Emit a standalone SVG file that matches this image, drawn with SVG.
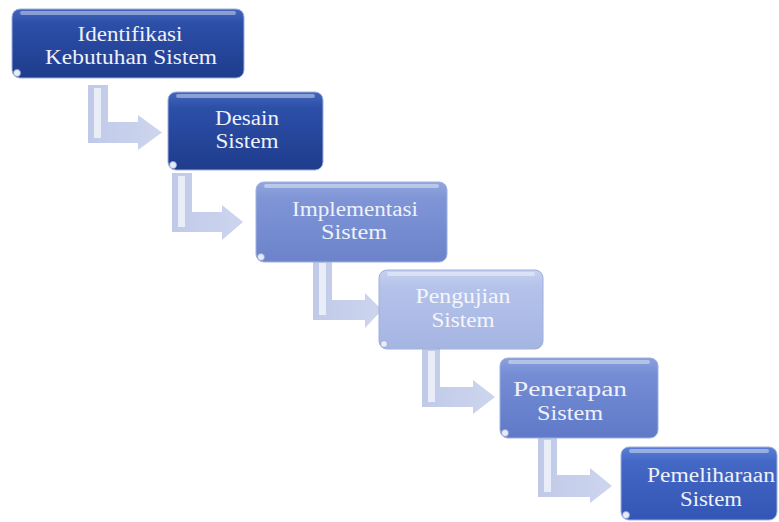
<svg xmlns="http://www.w3.org/2000/svg" width="779" height="522" viewBox="0 0 779 522">
  <defs>
    <linearGradient id="gDark" x1="0" y1="0" x2="0" y2="1">
      <stop offset="0" stop-color="#4366bd"/>
      <stop offset="0.2" stop-color="#2c4fa8"/>
      <stop offset="1" stop-color="#1f3c8c"/>
    </linearGradient>
    <linearGradient id="gMid" x1="0" y1="0" x2="0" y2="1">
      <stop offset="0" stop-color="#93a7de"/>
      <stop offset="0.2" stop-color="#7f95d6"/>
      <stop offset="1" stop-color="#6c83cb"/>
    </linearGradient>
    <linearGradient id="gLight" x1="0" y1="0" x2="0" y2="1">
      <stop offset="0" stop-color="#c7d2f0"/>
      <stop offset="0.2" stop-color="#b5c3ea"/>
      <stop offset="1" stop-color="#a5b5e2"/>
    </linearGradient>
    <linearGradient id="gMid2" x1="0" y1="0" x2="0" y2="1">
      <stop offset="0" stop-color="#8aa0dd"/>
      <stop offset="0.2" stop-color="#748dd4"/>
      <stop offset="1" stop-color="#6079c8"/>
    </linearGradient>
    <linearGradient id="gBlue" x1="0" y1="0" x2="0" y2="1">
      <stop offset="0" stop-color="#5b7fd4"/>
      <stop offset="0.2" stop-color="#4468c6"/>
      <stop offset="1" stop-color="#3355b5"/>
    </linearGradient>
    <linearGradient id="gArrow" x1="0" y1="0" x2="1" y2="0">
      <stop offset="0" stop-color="#c0cae8"/>
      <stop offset="1" stop-color="#cdd5ee"/>
    </linearGradient>
  </defs>
  <style>
    .box { stroke: #9fb0dc; stroke-width: 1; }
    .hl { fill: #ffffff; opacity: 0.4; }
    .curl { fill: #e6ebf7; stroke: #8ea0d4; stroke-width: 0.8; }
    .lbl { font-family: "Liberation Serif", "Times New Roman", serif; font-size: 20px; fill: #eef1fa; text-anchor: middle; }
    .arrow { fill: url(#gArrow); }
    .stripe { fill: #e9edf8; }
  </style>
  <rect width="779" height="522" fill="#ffffff"/>

  <g id="connectors">
    <g id="a1">
      <polygon class="arrow" points="88,85 108,85 108,122 138,122 138,115 162,132.5 138,150 138,143 88,143"/>
      <rect class="stripe" x="94" y="88" width="7" height="50"/>
    </g>
    <g id="a2">
      <polygon class="arrow" points="172,173 192,173 192,212 222,212 222,205 243,222 222,240 222,232 172,232"/>
      <rect class="stripe" x="178" y="176" width="7" height="51"/>
    </g>
    <g id="a3">
      <polygon class="arrow" points="313,260 332,260 332,300 365,300 365,293 382,310 365,328 365,320 313,320"/>
      <rect class="stripe" x="319" y="263" width="7" height="52"/>
    </g>
    <g id="a4">
      <polygon class="arrow" points="422,348 440,348 440,387 473,387 473,380 495,397 473,414 473,407 422,407"/>
      <rect class="stripe" x="428" y="351" width="7" height="51"/>
    </g>
    <g id="a5">
      <polygon class="arrow" points="538,437 557,437 557,475 590,475 590,468 612,486 590,503 590,497 538,497"/>
      <rect class="stripe" x="544" y="440" width="7" height="52"/>
    </g>
  </g>

  <g id="n1">
    <rect class="box" x="12" y="9" width="232" height="69" rx="8" fill="url(#gDark)"/>
    <rect class="hl" x="20" y="11" width="216" height="4" rx="2"/>
    <circle class="curl" cx="17" cy="73" r="3.5"/>
    <text class="lbl" x="130" y="41" textLength="105" lengthAdjust="spacingAndGlyphs">Identifikasi</text>
    <text class="lbl" x="131" y="64" textLength="172" lengthAdjust="spacingAndGlyphs">Kebutuhan Sistem</text>
  </g>

  <g id="n2">
    <rect class="box" x="168" y="92" width="155" height="78" rx="8" fill="url(#gDark)"/>
    <rect class="hl" x="176" y="94" width="139" height="4" rx="2"/>
    <circle class="curl" cx="173" cy="165" r="3.5"/>
    <text class="lbl" x="247" y="125" textLength="64" lengthAdjust="spacingAndGlyphs">Desain</text>
    <text class="lbl" x="247" y="148" textLength="63" lengthAdjust="spacingAndGlyphs">Sistem</text>
  </g>

  <g id="n3">
    <rect class="box" x="256" y="182" width="191" height="80" rx="8" fill="url(#gMid)"/>
    <rect class="hl" x="264" y="184" width="175" height="4" rx="2"/>
    <circle class="curl" cx="261" cy="257" r="3.5"/>
    <text class="lbl" x="355" y="216" textLength="126" lengthAdjust="spacingAndGlyphs">Implementasi</text>
    <text class="lbl" x="354" y="239" textLength="66" lengthAdjust="spacingAndGlyphs">Sistem</text>
  </g>

  <g id="n4">
    <rect class="box" x="379" y="270" width="164" height="79" rx="8" fill="url(#gLight)"/>
    <rect class="hl" x="387" y="272" width="148" height="4" rx="2"/>
    <circle class="curl" cx="384" cy="344" r="3.5"/>
    <text class="lbl" x="463" y="303" textLength="95" lengthAdjust="spacingAndGlyphs" style="fill:#f4f6fc">Pengujian</text>
    <text class="lbl" x="463" y="327" textLength="63" lengthAdjust="spacingAndGlyphs" style="fill:#f4f6fc">Sistem</text>
  </g>

  <g id="n5">
    <rect class="box" x="500" y="358" width="158" height="80" rx="8" fill="url(#gMid2)"/>
    <rect class="hl" x="508" y="360" width="142" height="4" rx="2"/>
    <circle class="curl" cx="505" cy="433" r="3.5"/>
    <text class="lbl" x="570" y="396" textLength="114" lengthAdjust="spacingAndGlyphs">Penerapan</text>
    <text class="lbl" x="570" y="420" textLength="66" lengthAdjust="spacingAndGlyphs">Sistem</text>
  </g>

  <g id="n6">
    <rect class="box" x="621" y="447" width="156" height="73" rx="8" fill="url(#gBlue)"/>
    <rect class="hl" x="629" y="449" width="140" height="4" rx="2"/>
    <circle class="curl" cx="626" cy="515" r="3.5"/>
    <text class="lbl" x="711" y="482" textLength="128" lengthAdjust="spacingAndGlyphs">Pemeliharaan</text>
    <text class="lbl" x="711" y="506" textLength="62" lengthAdjust="spacingAndGlyphs">Sistem</text>
  </g>
</svg>
